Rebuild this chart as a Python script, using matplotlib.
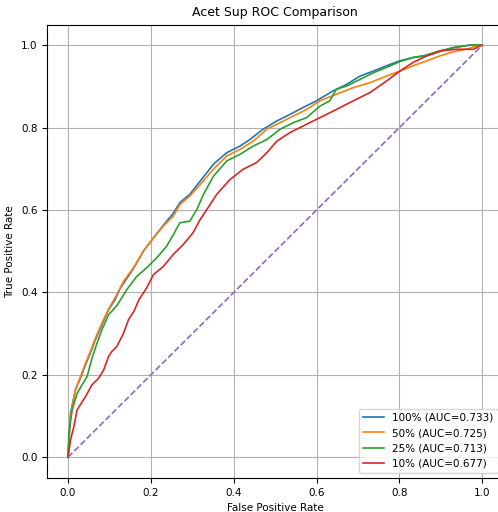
import matplotlib
matplotlib.use("Agg")
import matplotlib.pyplot as plt

labels = ["100% (AUC=0.733)", "50% (AUC=0.725)", "25% (AUC=0.713)", "10% (AUC=0.677)"]
colors = ["tab:blue", "tab:orange", "tab:green", "tab:red"]

fpr_100 = [0.0, 0.006, 0.018, 0.03, 0.042, 0.054, 0.066, 0.082, 0.098, 0.114, 0.126, 0.158, 0.182, 0.206,
           0.23, 0.254, 0.27, 0.294, 0.319, 0.351, 0.383, 0.415, 0.439, 0.471, 0.504, 0.536, 0.568, 0.6,
           0.64, 0.673, 0.705, 0.737, 0.769, 0.801, 0.833, 0.866, 0.89, 0.93, 0.97, 1.0]
tpr_100 = [0.0, 0.107, 0.164, 0.192, 0.224, 0.253, 0.285, 0.322, 0.358, 0.383, 0.41, 0.458, 0.5, 0.532,
           0.563, 0.592, 0.618, 0.638, 0.67, 0.711, 0.739, 0.755, 0.771, 0.796, 0.816, 0.832, 0.849, 0.865,
           0.889, 0.905, 0.925, 0.937, 0.95, 0.962, 0.97, 0.974, 0.982, 0.994, 1.0, 1.0]

fpr_50 = [0.0, 0.006, 0.018, 0.03, 0.042, 0.054, 0.066, 0.082, 0.098, 0.114, 0.134, 0.158, 0.182, 0.206,
          0.23, 0.254, 0.27, 0.294, 0.319, 0.351, 0.383, 0.415, 0.447, 0.48, 0.512, 0.544, 0.576, 0.608,
          0.648, 0.689, 0.729, 0.769, 0.801, 0.833, 0.866, 0.898, 0.93, 0.962, 0.986, 1.0]
tpr_50 = [0.0, 0.1, 0.164, 0.196, 0.228, 0.257, 0.289, 0.326, 0.36, 0.388, 0.427, 0.46, 0.5, 0.532,
          0.561, 0.585, 0.613, 0.634, 0.662, 0.699, 0.731, 0.747, 0.767, 0.796, 0.812, 0.828, 0.844, 0.865,
          0.881, 0.897, 0.909, 0.925, 0.937, 0.95, 0.962, 0.974, 0.984, 0.99, 0.998, 1.0]

fpr_25 = [0.0, 0.002, 0.01, 0.022, 0.034, 0.046, 0.058, 0.07, 0.082, 0.098, 0.118, 0.142, 0.166, 0.19,
          0.214, 0.238, 0.254, 0.27, 0.294, 0.311, 0.327, 0.351, 0.383, 0.415, 0.447, 0.48, 0.512, 0.544,
          0.576, 0.608, 0.632, 0.648, 0.673, 0.705, 0.737, 0.769, 0.801, 0.833, 0.866, 0.89, 0.93, 0.97, 1.0]
tpr_25 = [0.0, 0.058, 0.115, 0.155, 0.176, 0.196, 0.241, 0.277, 0.31, 0.346, 0.368, 0.407, 0.439, 0.46,
          0.484, 0.512, 0.54, 0.569, 0.573, 0.601, 0.638, 0.682, 0.719, 0.735, 0.755, 0.771, 0.796, 0.812,
          0.824, 0.852, 0.865, 0.893, 0.901, 0.917, 0.933, 0.946, 0.96, 0.97, 0.976, 0.984, 0.994, 1.0, 1.0]

fpr_10 = [0.0, 0.006, 0.014, 0.022, 0.042, 0.058, 0.074, 0.086, 0.098, 0.106, 0.118, 0.134, 0.146, 0.159,
          0.171, 0.19, 0.206, 0.23, 0.254, 0.278, 0.302, 0.319, 0.335, 0.359, 0.391, 0.423, 0.455, 0.48,
          0.504, 0.536, 0.568, 0.608, 0.648, 0.689, 0.729, 0.769, 0.801, 0.833, 0.866, 0.898, 0.938,
          0.978, 1.0]
tpr_10 = [0.0, 0.042, 0.074, 0.115, 0.147, 0.176, 0.192, 0.212, 0.245, 0.257, 0.269, 0.301, 0.334, 0.354,
          0.382, 0.411, 0.443, 0.463, 0.492, 0.516, 0.545, 0.577, 0.601, 0.638, 0.674, 0.699, 0.715, 0.739,
          0.767, 0.788, 0.804, 0.824, 0.844, 0.865, 0.885, 0.913, 0.937, 0.958, 0.974, 0.986, 0.99,
          0.99, 1.0]

series = [(fpr_100, tpr_100), (fpr_50, tpr_50), (fpr_25, tpr_25), (fpr_10, tpr_10)]

fig = plt.figure(figsize=(4.98, 5.12), dpi=100)
ax = fig.add_axes([0.095, 0.0666, 0.915, 0.8855])
for (fx, ty), lab, c in zip(series, labels, colors):
    ax.plot(fx, ty, color=c, lw=1.2, label=lab)
ax.plot([0, 1], [0, 1], "--", color="tab:purple", lw=1.2)
ax.set_xlim(-0.05, 1.05)
ax.set_ylim(-0.05, 1.05)
ax.grid(True, color="#b0b0b0", lw=0.8)
ax.set_title("Acet Sup ROC Comparison", fontsize=9)
ax.set_xlabel("False Positive Rate", fontsize=7.5)
ax.set_ylabel("True Positive Rate", fontsize=7.5)
ax.tick_params(labelsize=7.5)
ax.legend(loc="lower right", fontsize=7.5)
fig.savefig("out.png", dpi=100)
